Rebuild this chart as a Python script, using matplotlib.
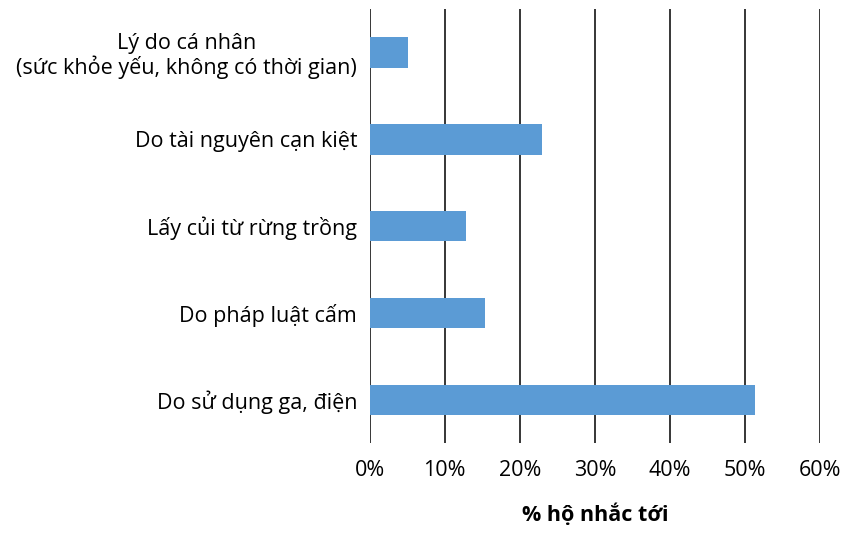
import matplotlib.pyplot as plt
from matplotlib.ticker import FuncFormatter

plt.rcParams['font.family'] = ['Open Sans', 'DejaVu Sans']

# ly do giam su dung cui (tu tren xuong duoi)
categories = [
    'Lý do cá nhân\n(sức khỏe yếu, không có thời gian)',
    'Do tài nguyên cạn kiệt',
    'Lấy củi từ rừng trồng',
    'Do pháp luật cấm',
    'Do sử dụng ga, điện',
]
values = [5.1, 23.0, 12.8, 15.4, 51.3]
xticks = [0, 10, 20, 30, 40, 50, 60]

fig = plt.figure(figsize=(8.42, 5.36), dpi=100)
ax = fig.add_axes([0.439, 0.173, 0.535, 0.810])

pos = list(range(len(categories)))[::-1]
ax.barh(pos, values, height=0.35, color='#5B9BD5', zorder=3)

ax.set_xlim(0, 60)
ax.set_ylim(-0.5, 4.5)
ax.set_xticks(xticks)
ax.xaxis.set_major_formatter(FuncFormatter(lambda v, p: f'{v:.0f}%'))
ax.set_yticks(pos)
ax.set_yticklabels(categories, fontsize=15.5)
ax.tick_params(axis='x', labelsize=15.5, length=0, pad=12)
ax.tick_params(axis='y', length=0, pad=9)
for lbl in ax.get_yticklabels():
    lbl.set_multialignment('center')
    lbl.set_linespacing(1.1)

ax.grid(axis='x', color='black', linewidth=1.1, zorder=0)
for s in ax.spines.values():
    s.set_visible(False)

ax.set_xlabel('% hộ nhắc tới', fontsize=15.5, fontweight='bold', labelpad=16)

fig.savefig('out.png', dpi=100)
